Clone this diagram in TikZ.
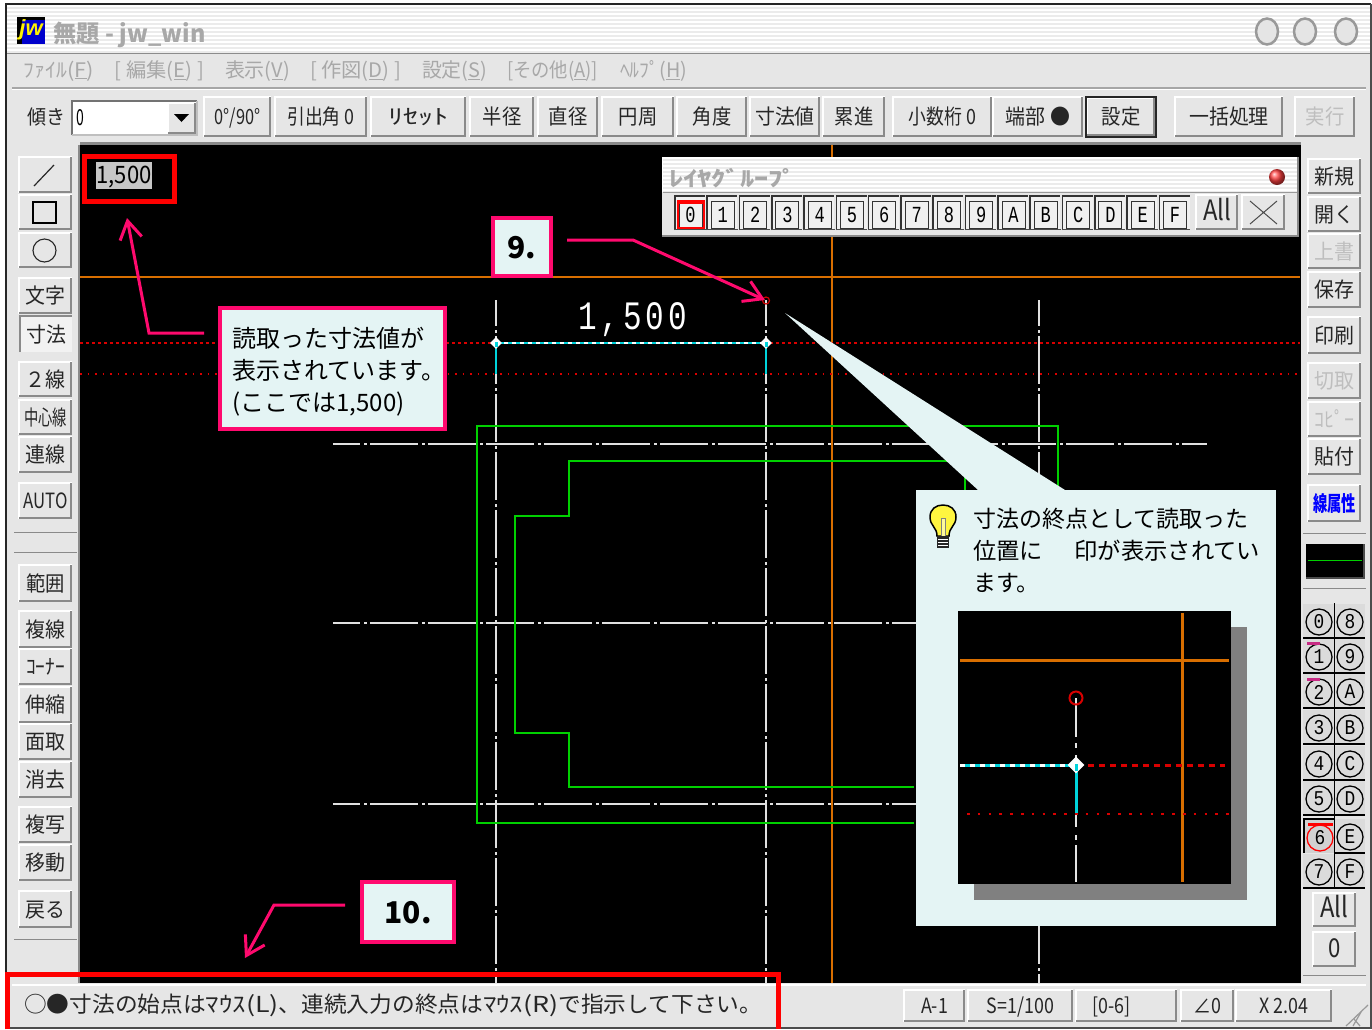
\documentclass[tikz,border=0pt]{standalone}
\usepackage{fontspec}
\usepackage{graphicx}
\usepackage{xcolor}
\usetikzlibrary{arrows.meta,shapes.geometric}
\setmainfont{Noto Sans CJK JP}
\newfontfamily\monof{Liberation Mono}
\newfontfamily\iconf{Liberation Sans}
\definecolor{face}{HTML}{E6E6E6}
\definecolor{edge}{HTML}{8A8A8A}
\definecolor{pnk}{HTML}{FF0A6E}
\definecolor{pale}{HTML}{E4F4F4}
\definecolor{org}{HTML}{D86E00}
\definecolor{cyn}{HTML}{00D4DC}
\definecolor{grn}{HTML}{00D000}
\definecolor{dis}{HTML}{BEBEBE}
\definecolor{ttl}{HTML}{A8A8A8}
\newcounter{bc}
\tikzset{
  btntext/.style={inner sep=0pt,text height=19pt,text depth=4pt,font=\fontsize{21}{24}\selectfont,text=black!85},
  plain/.style={inner sep=0pt,font=\fontsize{20}{24}\selectfont},
  callbox/.style={draw=pnk,line width=4pt,fill=pale,inner sep=0pt,font=\fontsize{30}{34}\selectfont\bfseries},
  pinkarrow/.style={draw=pnk,line width=3pt,-{Straight Barb[length=18pt,width=22pt,line width=3pt]}},
  cline/.style={white!88!black,line width=1.6pt,dash pattern=on 48pt off 4pt on 3pt off 3pt},
  gline/.style={grn,line width=1.7pt},
  oline/.style={org,line width=1.7pt},
  redbox/.style={red,line width=5pt},
  rd/.style={red!85!black,line width=1.3pt,dash pattern=on 3pt off 3pt},
  rdot/.style={red!85!black,line width=1.3pt,dash pattern=on 1.5pt off 6pt},
  cbtn/.style={circle,draw=black,line width=1.3pt,minimum size=26pt,inner sep=0pt,font=\monof\fontsize{21}{24}\selectfont},
}
% raised button: [x-scale of the text]{x1}{y1}{x2}{y2}{text}
\newcommand\btn[6][0.92]{%
  \fill[face] (#2,#3) rectangle (#4,#5);
  \draw[white,line width=1.5pt] (#2,#5) -- (#2,#3) -- (#4,#3);
  \draw[edge,line width=2.5pt] (#2,#5-1) -- (#4-1,#5-1) -- (#4-1,#3);
  \stepcounter{bc}%
  \node[btntext] (btn\thebc) at ({(#2+#4)/2},{(#3+#5)/2}) {\scalebox{#1}[1]{#6}};
}
\newcommand\greytx[1]{\textcolor{dis}{#1}}
% layer-group button
\newcommand\lbtn[2]{%
  \fill[white!94!black] ({674+32.3*#1},195) rectangle ({705+32.3*#1},230);
  \draw[black!80,line width=1.6pt] ({674.8+32.3*#1},230) -- ({674.8+32.3*#1},195.8) -- ({705+32.3*#1},195.8);
  \draw[black!80,line width=1pt] ({679+32.3*#1},228) -- ({679+32.3*#1},201) -- ({702+32.3*#1},201) -- ({702+32.3*#1},228) -- cycle;
  \draw[black!70,line width=1.6pt] ({674+32.3*#1},229.5) -- ({705.5+32.3*#1},229.5);
  \node[inner sep=0pt,font=\monof\fontsize{20}{24}\selectfont] (lg#1) at ({690.5+32.3*#1},215) {\scalebox{.85}[1.15]{#2}};
}
% round layer button
\newcommand\rbtn[3]{%
  \fill[white!86!black] (#1-16,#2-18) rectangle (#1+15,#2+15);
  \draw[black,line width=1.6pt] (#1-16,#2+16) -- (#1+15,#2+16);
  \node[cbtn] (ly#3) at (#1,#2) {\scalebox{.85}[1]{#3}};
}
\begin{document}
\begin{tikzpicture}[x=1pt,y=-1pt]
\useasboundingbox (0,0) rectangle (1372,1029);
\fill[white] (0,0) rectangle (1372,1029);
% window
\fill[face] (7,5) rectangle (1370,1029);
\draw[black!85,line width=2pt] (6,1029) -- (6,4) -- (1371,4);
\draw[black!70,line width=1.5pt] (7,1028) -- (1371,1028) -- (1371,4);
% title bar stripes
\fill[white] (7,5) rectangle (1370,53);
\foreach \yy in {8,12,...,52} \draw[white!92!black,line width=2pt] (7,\yy) -- (1370,\yy);
\draw[black!45,line width=1.5pt] (7,53.5) -- (1370,53.5);
\draw[black!35,line width=1.2pt] (12,88) -- (1366,88);
\draw[white,line width=1pt] (12,89.5) -- (1366,89.5);
% jw icon
\fill[black] (17,17) rectangle (45,44);
\fill[blue!80!black] (22,20) rectangle (45,44);
\node[inner sep=0pt,font=\iconf\fontsize{22}{24}\selectfont\bfseries\itshape,text=yellow] (icon) at (31,30) {jw};
\node[inner sep=0pt,text=ttl,font=\fontsize{24}{28}\selectfont\bfseries] (title) at (129.5,35) {\resizebox{152pt}{\height}{無題 - jw\_win}};
\foreach \cx/\nm in {1267/a,1305/b,1346/c}
  \node[ellipse,draw=black!40,line width=2.5pt,fill=white!90!black,minimum width=22pt,minimum height=26pt,inner sep=0pt] (win\nm) at (\cx,31.5) {};
% menu
\foreach \ca/\mw/\tx/\nm in {59/70/ﾌｧｲﾙ(\underline{F})/a,159.5/89/[ 編集(\underline{E}) ]/b,257.5/65/表示(\underline{V})/c,355.5/91/[ 作図(\underline{D}) ]/d,454.5/65/設定(\underline{S})/e,552.5/91/[その他(\underline{A})]/f,653.5/67/ﾍﾙﾌﾟ(\underline{H})/g}
  \node[plain,text=ttl] (menu\nm) at (\ca,71) {\resizebox{\mw pt}{\height}{\tx}};
% toolbar
\draw[edge,line width=3pt] (80,143) -- (1301,143);
\node[plain,text=black!85] (tilt) at (46,117) {\resizebox{38pt}{\height}{傾き}};
\fill[white] (72,101) rectangle (197,135);
\draw[black!55,line width=2pt] (72,135) -- (72,101) -- (197,101);
\draw[white!75!black,line width=1.5pt] (72,135) -- (197,135) -- (197,101);
\btn[1]{168}{103}{196}{134}{}
\fill[black] (174,114) -- (189,114) -- (181.5,122) -- cycle;
\node[plain,anchor=west] (tiltval) at (76,118) {\scalebox{.7}[1.1]{0}};
\btn[.78]{204}{97}{271}{137}{0°/90°}
\btn[.85]{275}{97}{367}{137}{引出角 0}
\btn[1.45]{371}{97}{466}{137}{ﾘｾｯﾄ}
\btn{470}{97}{534}{137}{半径}
\btn{538}{97}{598}{137}{直径}
\btn{602}{97}{674}{137}{円周}
\btn{677}{97}{747}{137}{角度}
\btn[.95]{750}{97}{820}{137}{寸法値}
\btn{823}{97}{885}{137}{累進}
\btn[.85]{893}{97}{992}{137}{小数桁 0}
\btn[.95]{993}{97}{1083}{137}{端部 ●}
\btn{1087}{98}{1155}{136}{設定}
\draw[black!85,line width=1.8pt] (1086,97) rectangle (1156,137);
\btn[.95]{1175}{97}{1283}{137}{一括処理}
\btn{1295}{97}{1355}{137}{\greytx{実行}}
% canvas
\fill[black] (80,145) rectangle (1301,983);
\draw[edge,line width=2pt] (79,145) -- (79,983);
\draw[oline] (80,277) -- (1300,277);
\draw[oline] (832,145) -- (832,983);
\draw[rd] (80,343) -- (1300,343);
\draw[rdot] (80,374) -- (1300,374);
\foreach \vx in {496,766,1039}
  \draw[cline,dash phase=22pt] (\vx,300) -- (\vx,983);
\foreach \hy in {444,623,804}
  \draw[cline,dash phase=21pt] (333,\hy) -- (1207,\hy);
\draw[gline] (914,823) -- (477,823) -- (477,426) -- (1058,426) -- (1058,495);
\draw[gline] (965,495) -- (965,461) -- (569,461) -- (569,516) -- (515,516) -- (515,733) -- (569,733) -- (569,787) -- (914,787);
\draw[cyn,line width=2pt] (496,343) -- (766,343);
\draw[white,line width=2pt,dash pattern=on 4pt off 4pt] (496,343) -- (766,343);
\draw[cyn,line width=2.5pt] (496,343) -- (496,374);
\draw[cyn,line width=2.5pt] (766,343) -- (766,374);
\foreach \px/\nm in {496/a,766/b}{
  \node[diamond,fill=white,minimum size=12pt,inner sep=0pt] (pt\nm) at (\px,343) {};
  \fill[cyn] (\px-1.5,342) rectangle (\px+1.5,347);
}
\node[circle,draw=red!80!black,line width=1.2pt,minimum size=7pt,inner sep=0pt] (endpt) at (766,300.5) {};
\node[inner sep=0pt,text=white,font=\monof\fontsize{31}{34}\selectfont] (dimval) at (632.5,320) {\scalebox{1}[1.3]{1\kern4pt,\kern4pt 5\kern4pt 0\kern4pt 0}};
% readout
\fill[white!78!black] (96,162) rectangle (152,189);
\node[inner sep=0pt,font=\fontsize{24}{26}\selectfont] (readval) at (124,177) {\resizebox{55pt}{\height}{1,500}};
\draw[redbox] (84,156) rectangle (174,201);
% layer group panel
\fill[face] (662,157) rectangle (1298,236);
\fill[white] (662,157) rectangle (1298,192);
\foreach \yy in {160,164,...,192} \draw[white!92!black,line width=2pt] (663,\yy) -- (1297,\yy);
\draw[edge,line width=2pt] (662,236) -- (1298,236) -- (1298,157);
\draw[black!40,line width=1pt] (663,192.5) -- (1297,192.5);
\node[inner sep=0pt,text=ttl,font=\fontsize{21}{24}\selectfont\bfseries] (lgtitle) at (733,178) {\resizebox{128pt}{\height}{ﾚｲﾔｸﾞﾙｰﾌﾟ}};
\node[circle,shade,ball color=red!75!white,minimum size=16pt,inner sep=0pt] (lgclose) at (1277,177) {};
\foreach \cc [count=\ii from 0] in {0,1,2,3,4,5,6,7,8,9,A,B,C,D,E,F} {\lbtn{\ii}{\cc}}
\draw[red,line width=2pt] (678,202) rectangle (704,228);
\fill[red] (677,200) rectangle (705,204);
\btn[.85]{1196}{195}{1238}{230}{\fontsize{28}{30}\selectfont All}
\btn[1]{1242}{195}{1285}{230}{}
\draw[black!70,line width=1pt] (1250,201) -- (1277,224) (1277,201) -- (1250,224);
% left panel
\btn[1]{19}{157}{72}{193}{}
\draw[black!85,line width=1.2pt] (34,186) -- (54,165);
\btn[1]{19}{195}{72}{230}{}
\draw[black,line width=1.2pt] (33,202) rectangle (56,223);
\btn[1]{19}{233}{72}{268}{}
\draw[black!85,line width=1.1pt] (44.5,250.5) circle (11.5);
\btn[.95]{19}{278}{72}{314}{文字}
\fill[white!95!black] (19,315) rectangle (72,352);
\draw[edge,line width=2.5pt] (20,352) -- (20,316) -- (72,316);
\node[btntext] (dimbtn) at (46,335) {\scalebox{.95}[1]{寸法}};
\btn[.95]{19}{362}{72}{397}{２線}
\btn[.68]{19}{400}{72}{435}{中心線}
\btn[.95]{19}{437}{72}{473}{連線}
\btn[.8]{19}{483}{72}{519}{AUTO}
\draw[edge,line width=1pt] (14,532) -- (77,532);
\draw[edge,line width=1pt] (14,552) -- (77,552);
\btn[.92]{19}{565}{72}{602}{範囲}
\btn[.95]{19}{611}{72}{648}{複線}
\btn[.92]{19}{649}{72}{685}{ｺｰﾅｰ}
\btn[.95]{19}{687}{72}{723}{伸縮}
\btn[.95]{19}{724}{72}{760}{面取}
\btn[.95]{19}{762}{72}{798}{消去}
\btn[.95]{19}{807}{72}{843}{複写}
\btn[.95]{19}{845}{72}{881}{移動}
\btn[.95]{19}{891}{72}{928}{戻る}
\draw[edge,line width=1pt] (14,939) -- (77,939);
% right panel
\btn[.95]{1308}{159}{1361}{194}{新規}
\btn[.95]{1308}{197}{1361}{232}{開く}
\btn[.95]{1308}{234}{1361}{269}{\greytx{上書}}
\btn[.95]{1308}{272}{1361}{308}{保存}
\btn[.95]{1308}{317}{1361}{354}{印刷}
\btn[.95]{1308}{363}{1361}{399}{\greytx{切取}}
\btn[.95]{1308}{402}{1361}{437}{\greytx{ｺﾋﾟｰ}}
\btn[.95]{1308}{439}{1361}{475}{貼付}
\btn[.68]{1308}{485}{1361}{522}{\textcolor{blue}{\bfseries 線属性}}
\draw[edge,line width=1pt] (1303,533) -- (1366,533);
\fill[black] (1306,544) rectangle (1364,578);
\draw[black!70,line width=2pt] (1306,578) -- (1364,578) -- (1364,544);
\draw[grn,line width=1.5pt] (1308,560.5) -- (1362,560.5);
\draw[edge,line width=1pt] (1303,588) -- (1366,588);
\foreach \ry/\la/\lb in {622/0/8,657/1/9,692/2/A,728/3/B,764/4/C,799/5/D,872/7/F}{
  \rbtn{1319}{\ry}{\la}
  \rbtn{1350}{\ry}{\lb}
}
\rbtn{1350}{837}{E}
\fill[white!82!black] (1303,818) rectangle (1334,853);
\draw[black,line width=2pt] (1303.5,853) -- (1303.5,818.5) -- (1334,818.5);
\node[cbtn,draw=red] (ly6) at (1320,838) {\scalebox{.85}[1]{6}};
\draw[red,line width=3pt] (1308,824) -- (1333,824);
\draw[magenta!80!black,line width=3pt] (1307,643) -- (1320,643);
\draw[magenta!80!black,line width=3pt] (1307,679) -- (1320,679);
\draw[black,line width=1.6pt] (1334.5,603) -- (1334.5,888);
\btn[.85]{1313}{893}{1356}{927}{\fontsize{28}{30}\selectfont All}
\btn[.85]{1313}{932}{1356}{967}{\fontsize{26}{30}\selectfont 0}
\draw[edge,line width=1pt] (1303,975) -- (1366,975);
% status bar
\draw[white,line width=1.5pt] (12,985) -- (1366,985);
\node[inner sep=0pt,anchor=west,font=\fontsize{22}{26}\selectfont,text=black!85] (status) at (24,1005) {\resizebox{738pt}{\height}{○●寸法の始点は\scalebox{1.18}[1]{ﾏｳｽ(L)}、連続入力の終点は\scalebox{1.18}[1]{ﾏｳｽ(R)}で指示して下さい。}};
\btn[.85]{904}{990}{965}{1022}{A-1}
\btn[.85]{968}{990}{1073}{1022}{S=1/100}
\btn[.85]{1076}{990}{1177}{1022}{\hspace{-36pt}[0-6]}
\btn[.85]{1181}{990}{1234}{1022}{∠0}
\btn[.85]{1236}{990}{1332}{1022}{X 2.04}
\foreach \gq in {0,7,14}
  \draw[black!40,line width=1.2pt] (1368-\gq,1005+\gq) -- (1346+\gq,1026);
\draw[redbox] (7.5,1029) -- (7.5,974) -- (778,974) -- (778,1029);
% callouts
\node[callbox,minimum width=58pt,minimum height=58pt,text depth=0pt,text height=22pt] (n9) at (521.5,247) {9.};
\coordinate (a9s) at (567,240);
\coordinate (a9m) at (633,240);
\coordinate (a9e) at (765,300);
\draw[pinkarrow] (a9s) -- (a9m) -- (a9e);
\node[callbox,minimum width=92pt,minimum height=60pt,text depth=0pt,text height=22pt] (n10) at (408,912) {10.};
\coordinate (a10s) at (345,905);
\coordinate (a10m) at (274,905);
\coordinate (a10e) at (245,958);
\draw[pinkarrow] (a10s) -- (a10m) -- (a10e);
\node[callbox,minimum width=225pt,minimum height=121pt] (nread) at (332.5,368.5) {};
\node[inner sep=0pt,align=left,font=\fontsize{24}{32}\selectfont,text width=200pt] (nreadtx) at (332.5,372) {読取った寸法値が\\表示されています。\\(ここでは1,500)};
\coordinate (ars) at (204,333);
\coordinate (arm) at (149,333);
\coordinate (are) at (127,218);
\draw[pinkarrow] (ars) -- (arm) -- (are);
% tip panel
\fill[pale] (916,490) rectangle (1276,926);
\fill[pale] (785,313) -- (1065,490) -- (978,490) -- cycle;
\node[inner sep=0pt,anchor=west,font=\fontsize{23}{26}\selectfont] (tip1) at (973,519) {\resizebox{275pt}{\height}{寸法の終点として読取った}};
\node[inner sep=0pt,anchor=west,font=\fontsize{23}{26}\selectfont] (tip2) at (973,551) {\resizebox{287pt}{\height}{位置に\hspace{31pt}印が表示されてい}};
\node[inner sep=0pt,anchor=west,font=\fontsize{23}{26}\selectfont] (tip3) at (973,583) {ます。};
% bulb
\draw[black,line width=1.5pt,fill=yellow!75!white] (937,536) .. controls (937,527) and (930,526) .. (930,517) .. controls (930,509) and (936,505) .. (943,505) .. controls (950,505) and (956,509) .. (956,517) .. controls (956,526) and (949,527) .. (949,536) -- cycle;
\draw[black!50,line width=.8pt,fill=white!60!yellow] (941,536) -- (941,518) -- (945,518) -- (945,536);
\fill[black!85] (937,536) rectangle (949,548);
\foreach \by in {539,542,545} \draw[white,line width=.8pt] (938,\by) -- (948,\by);
% inset
\fill[black!50] (974,627) rectangle (1247,900);
\fill[black] (958,611) rectangle (1231,884);
\draw[org,line width=3pt] (960,660) -- (1229,660);
\draw[org,line width=3pt] (1182,613) -- (1182,882);
\draw[white!90!black,line width=2.5pt] (1076,698) -- (1076,737) (1076,743) -- (1076,748) (1076,755) -- (1076,765) (1076,814) -- (1076,827) (1076,835) -- (1076,840) (1076,845) -- (1076,882);
\draw[cyn,line width=3pt] (1076,765) -- (1076,814);
\draw[cyn,line width=2.5pt] (960,765.5) -- (1072,765.5);
\draw[white,line width=2.5pt,dash pattern=on 5pt off 5pt] (960,765.5) -- (1072,765.5);
\draw[red!85!black,line width=2.5pt,dash pattern=on 6pt off 5pt] (1088,765.5) -- (1225,765.5);
\draw[red!85!black,line width=2.5pt,dash pattern=on 2.5pt off 8.3pt] (967,814) -- (1229,814);
\node[diamond,fill=white,minimum size=17pt,inner sep=0pt] (ipt) at (1076,765) {};
\fill[cyn] (1074.5,764) rectangle (1077.5,771);
\node[circle,draw=red!85!black,line width=2pt,minimum size=13pt,inner sep=0pt] (iend) at (1076,698) {};
\end{tikzpicture}
\end{document}
